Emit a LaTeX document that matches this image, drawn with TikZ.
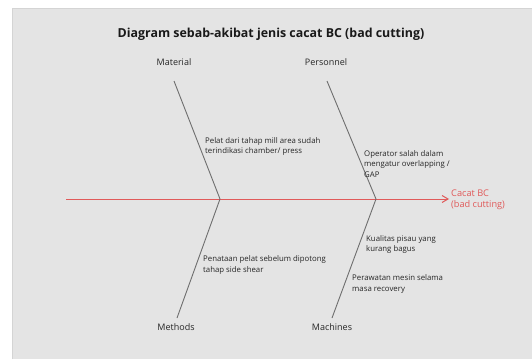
\documentclass[tikz,border=0pt]{standalone}
\usepackage{fontspec}
\setmainfont{Open Sans}
\usetikzlibrary{arrows.meta}
\definecolor{bg}{HTML}{E4E4E4}
\definecolor{bgedge}{HTML}{D4D4D4}
\definecolor{bone}{HTML}{6E6E6E}
\definecolor{spine}{HTML}{E05A5A}
\definecolor{txt}{HTML}{262626}
\tikzset{
  bonestyle/.style={draw=bone, line width=0.9pt},
  spinestyle/.style={draw=spine, line width=1pt, -{Straight Barb[length=6pt,width=7pt,line width=1pt]}},
  cat/.style={font=\fontsize{9}{11}\selectfont, text=txt, inner sep=0pt},
  cause/.style={font=\fontsize{7.8}{10.2}\selectfont, text=txt, inner sep=0pt, align=left, anchor=west},
  titlestyle/.style={font=\fontsize{12.4}{14}\selectfont\bfseries, text=black!90, inner sep=0pt},
  effect/.style={font=\fontsize{9.2}{11}\selectfont, text=spine, inner sep=0pt, align=left, anchor=west}
}
\begin{document}
\begin{tikzpicture}[x=1pt,y=-1pt]
\useasboundingbox (0,0) rectangle (532,359);
\fill[bg] (12,8) rectangle (532,359);
\draw[bgedge, line width=1pt] (12.5,359) -- (12.5,8.5) -- (532,8.5);
\node[titlestyle] (title) at (271,34) {Diagram sebab-akibat jenis cacat BC (bad cutting)};
% category labels
\node[cat] (material) at (174,62) {Material};
\node[cat] (personnel) at (326,62) {Personnel};
\node[cat] (methods) at (176,327) {Methods};
\node[cat] (machines) at (332,327) {Machines};
% bone ends and junctions
\coordinate (matTop) at (174,81);
\coordinate (j1) at (220,199);
\coordinate (methBot) at (177,318);
\coordinate (perTop) at (327,81);
\coordinate (j2) at (376,199);
\coordinate (machBot) at (332,318);
\coordinate (tail) at (66,199);
\coordinate (head) at (449,199);
% spine
\draw[spinestyle] (tail) -- (head);
% bones
\draw[bonestyle] (matTop) -- (j1) -- (methBot);
\draw[bonestyle] (perTop) -- (j2) -- (machBot);
% effect
\node[effect] (effectlbl) at (451,199.5) {Cacat BC\\(bad cutting)};
% causes
\node[cause] (c1) at (205,146.5) {Pelat dari tahap mill area sudah\\terindikasi chamber/ press};
\node[cause] (c2) at (364,164) {Operator salah dalam\\mengatur overlapping /\\GAP};
\node[cause] (c3) at (203,265) {Penataan pelat sebelum dipotong\\tahap side shear};
\node[cause] (c4) at (366,244.5) {Kualitas pisau yang\\kurang bagus};
\node[cause] (c5) at (352,284) {Perawatan mesin selama\\masa recovery};
\end{tikzpicture}
\end{document}
